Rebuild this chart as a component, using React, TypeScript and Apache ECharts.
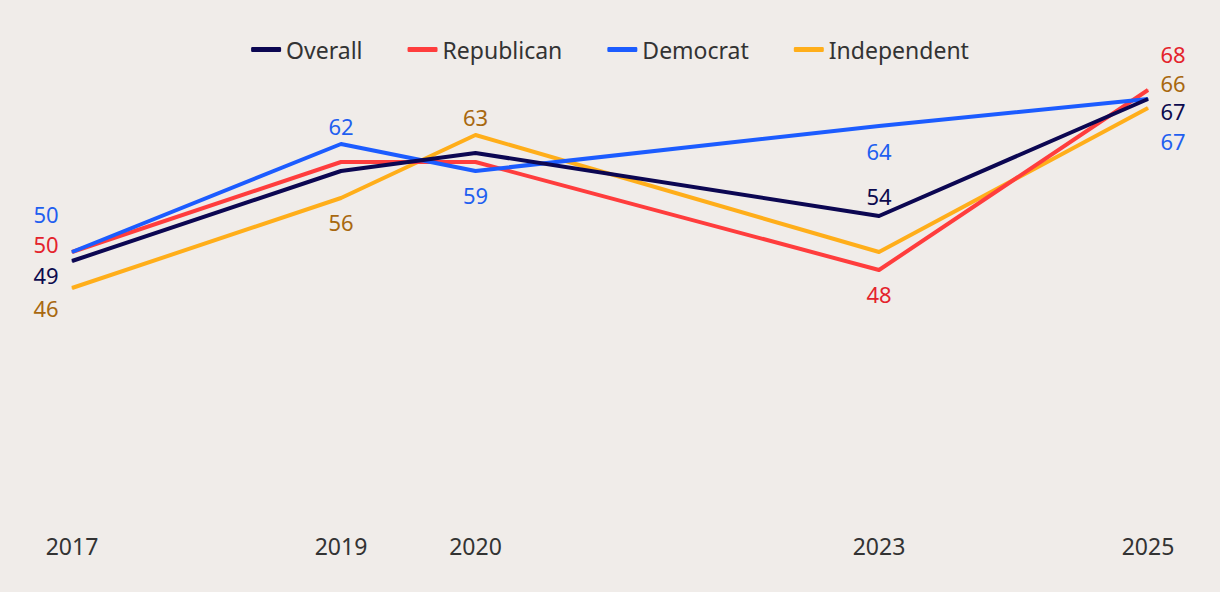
import React, { useEffect, useRef } from "react";
import * as echarts from "echarts";

const years = [2017, 2019, 2020, 2023, 2025];
const seriesNames = ["Overall", "Republican", "Democrat", "Independent"];
const overall = [49, 59, 61, 54, 67];
const republican = [50, 60, 60, 48, 68];
const democrat = [50, 62, 59, 64, 67];
const independent = [46, 56, 63, 50, 66];

// label placement (style only): [dx, dy] offset from point, null = hidden
const overallLabelOffsets = [[-26, 14], null, null, [0, -20], [25, 12]];
const republicanLabelOffsets = [[-26, -8], null, null, [0, 24], [25, -36]];
const democratLabelOffsets = [[-26, -38], [0, -18], [0, 24], [0, 25], [25, 42]];
const independentLabelOffsets = [[-26, 20], [0, 24], [0, -18], null, [25, -25]];

const lineColors = ["#0c0752", "#ff3d3d", "#1c5cff", "#ffae1a"];
const labelColors = ["#0c0a4e", "#e4232c", "#1f5ff0", "#a8680f"];

const FONT = "'Noto Sans', sans-serif";

export default function App() {
  const ref = useRef<HTMLDivElement>(null);
  useEffect(() => {
    if (!ref.current) return;
    const chart = echarts.init(ref.current, undefined, { renderer: "svg" });
    const values = [overall, republican, democrat, independent];
    const offsets = [overallLabelOffsets, republicanLabelOffsets, democratLabelOffsets, independentLabelOffsets];
    const zs = [5, 3, 4, 2];
    const series = seriesNames.map((name, si) => ({
      name,
      type: "line",
      z: zs[si],
      symbol: "circle",
      symbolSize: 1,
      showSymbol: true,
      lineStyle: { width: 4, color: lineColors[si], join: "round" },
      itemStyle: { color: lineColors[si] },
      emphasis: { disabled: true },
      data: years.map((y, i) => {
        const off = offsets[si][i];
        return {
          value: [y, values[si][i]],
          label: off
            ? {
                show: true,
                position: "inside",
                offset: off,
                color: labelColors[si],
                fontSize: 22,
                lineHeight: 20,
                fontFamily: FONT,
                formatter: String(values[si][i]),
              }
            : { show: false },
        };
      }),
    }));
    chart.setOption({
      animation: false,
      backgroundColor: "#f0ece9",
      legend: {
        data: seriesNames,
        top: 33,
        left: "center",
        itemWidth: 30,
        itemHeight: 5,
        itemGap: 45,
        icon: "roundRect",
        textStyle: { color: "#333333", fontSize: 23, fontFamily: FONT },
      },
      grid: { left: 72, right: 72, top: 72, bottom: 70 },
      xAxis: {
        type: "value",
        min: 2017,
        max: 2025,
        interval: 1,
        axisLine: { show: false },
        axisTick: { show: false },
        splitLine: { show: false },
        axisLabel: {
          customValues: years,
          color: "#333333",
          fontSize: 23,
          fontFamily: FONT,
          margin: 12,
          formatter: (v: number) => String(v),
        },
      },
      yAxis: {
        type: "value",
        min: 20,
        max: 70,
        show: false,
        splitLine: { show: false },
      },
      series,
    });
    return () => chart.dispose();
  }, []);
  return (
    <div
      ref={ref}
      style={{ position: "fixed", left: 0, top: 0, width: 1220, height: 592 }}
    />
  );
}
